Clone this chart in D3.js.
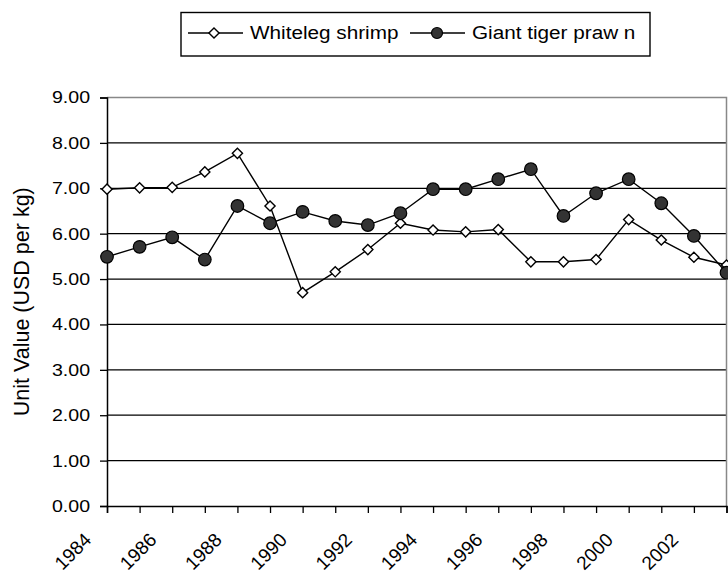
<!DOCTYPE html>
<html>
<head>
<meta charset="utf-8">
<script src="https://cdn.jsdelivr.net/npm/d3@7"></script>
<style>
  body { margin: 0; background: #fff; }
  svg { display: block; font-family: "Liberation Sans", Arial, sans-serif; }
</style>
</head>
<body>
<svg id="chart" width="728" height="573"></svg>
<script>
// Data
const years = [1984, 1985, 1986, 1987, 1988, 1989, 1990, 1991, 1992, 1993,
               1994, 1995, 1996, 1997, 1998, 1999, 2000, 2001, 2002, 2003];
const whiteleg = [6.98, 7.01, 7.02, 7.36, 7.77, 6.61, 4.70, 5.16, 5.65, 6.23,
                  6.08, 6.04, 6.09, 5.38, 5.38, 5.43, 6.31, 5.86, 5.48, 5.31];
const tiger = [5.49, 5.71, 5.92, 5.43, 6.61, 6.23, 6.48, 6.28, 6.19, 6.45,
               6.98, 6.98, 7.20, 7.42, 6.39, 6.89, 7.20, 6.67, 5.95, 5.14];
const yTicks = [0, 1, 2, 3, 4, 5, 6, 7, 8, 9];
const xLabels = [1984, 1986, 1988, 1990, 1992, 1994, 1996, 1998, 2000, 2002];

const svg = d3.select('#chart');
const pLeft = 107, pRight = 726.5, pTop = 97.5, pBottom = 506;

const x = d3.scalePoint().domain(years).range([pLeft, pRight]);
const y = d3.scaleLinear().domain([0, 9]).range([pBottom, pTop]);

// text in the original looks a bit wider than Arial, stretch it
const stretch = (sel, k = 1.15) => sel.each(function () {
  const w = this.getComputedTextLength();
  d3.select(this).attr('textLength', w * k).attr('lengthAdjust', 'spacingAndGlyphs');
});

// gridlines
svg.append('g')
  .selectAll('line')
  .data(yTicks.filter(d => d > 0 && d < 9))
  .join('line')
  .attr('x1', pLeft).attr('x2', pRight)
  .attr('y1', d => y(d)).attr('y2', d => y(d))
  .attr('stroke', '#000').attr('stroke-width', 1.3);

// top and right border of plot area
svg.append('path')
  .attr('d', `M${pLeft},${y(9)}H${pRight}V${pBottom}`)
  .attr('fill', 'none').attr('stroke', '#888').attr('stroke-width', 1.5);

// y axis
const yAxis = svg.append('g')
  .attr('transform', `translate(${pLeft},0)`)
  .call(d3.axisLeft(y).tickValues(yTicks).tickSize(7).tickPadding(10).tickFormat(d3.format('.2f')))
  .attr('font-family', null).attr('font-size', null);
yAxis.select('.domain').attr('stroke-width', 1.5);
yAxis.selectAll('.tick line').attr('stroke-width', 1.3);
yAxis.selectAll('text')
  .attr('font-size', 17).attr('fill', '#000')
  .call(stretch);

// x axis
const xAxis = svg.append('g')
  .attr('transform', `translate(0,${pBottom})`)
  .call(d3.axisBottom(x).tickSize(7).tickFormat(d => xLabels.includes(d) ? d : ''))
  .attr('font-family', null).attr('font-size', null);
xAxis.select('.domain').attr('stroke-width', 1.5);
xAxis.selectAll('.tick line').attr('stroke-width', 1.3);
xAxis.selectAll('text')
  .attr('font-size', 19).attr('fill', '#000')
  .attr('text-anchor', 'end')
  .attr('y', 0).attr('dy', 0)
  .attr('transform', 'translate(-15,35) rotate(-45)');

// y axis title
svg.append('text')
  .attr('transform', `translate(29,${(pTop + pBottom) / 2}) rotate(-90)`)
  .attr('text-anchor', 'middle')
  .attr('font-size', 21.5)
  .text('Unit Value (USD per kg)');

// lines
const line = d3.line().x((d, i) => x(years[i])).y(d => y(d));
const diamond = d3.symbol().type(d3.symbolDiamond2).size(66);

function drawSeries(values, kind) {
  svg.append('path')
    .datum(values)
    .attr('d', line)
    .attr('fill', 'none').attr('stroke', '#000').attr('stroke-width', 1.4);
  const g = svg.append('g');
  if (kind === 'diamond') {
    g.selectAll('path')
      .data(values)
      .join('path')
      .attr('d', diamond)
      .attr('transform', (d, i) => `translate(${x(years[i])},${y(d)})`)
      .attr('fill', '#fff').attr('stroke', '#000').attr('stroke-width', 1.4);
  } else {
    g.selectAll('circle')
      .data(values)
      .join('circle')
      .attr('cx', (d, i) => x(years[i])).attr('cy', d => y(d))
      .attr('r', 6.3)
      .attr('fill', '#333').attr('stroke', '#000').attr('stroke-width', 1.2);
  }
}
drawSeries(whiteleg, 'diamond');
drawSeries(tiger, 'circle');

// legend
const legend = svg.append('g');
legend.append('rect')
  .attr('x', 181).attr('y', 12.5).attr('width', 469).attr('height', 43.5)
  .attr('fill', '#fff').attr('stroke', '#000').attr('stroke-width', 1.4);

const items = [
  { name: 'Whiteleg shrimp', kind: 'diamond', x0: 188 },
  { name: 'Giant tiger praw n', kind: 'circle', x0: 410 }
];
items.forEach(it => {
  const ly = 33;
  legend.append('line')
    .attr('x1', it.x0).attr('x2', it.x0 + 55).attr('y1', ly).attr('y2', ly)
    .attr('stroke', '#000').attr('stroke-width', 1.4);
  if (it.kind === 'diamond') {
    legend.append('path').attr('d', diamond)
      .attr('transform', `translate(${it.x0 + 26},${ly})`)
      .attr('fill', '#fff').attr('stroke', '#000').attr('stroke-width', 1.4);
  } else {
    legend.append('circle').attr('cx', it.x0 + 27).attr('cy', ly).attr('r', 5.5)
      .attr('fill', '#333').attr('stroke', '#000').attr('stroke-width', 1.2);
  }
  legend.append('text')
    .attr('x', it.x0 + 62).attr('y', 39)
    .attr('font-size', 18)
    .text(it.name)
    .call(stretch);
});
</script>
</body>
</html>
